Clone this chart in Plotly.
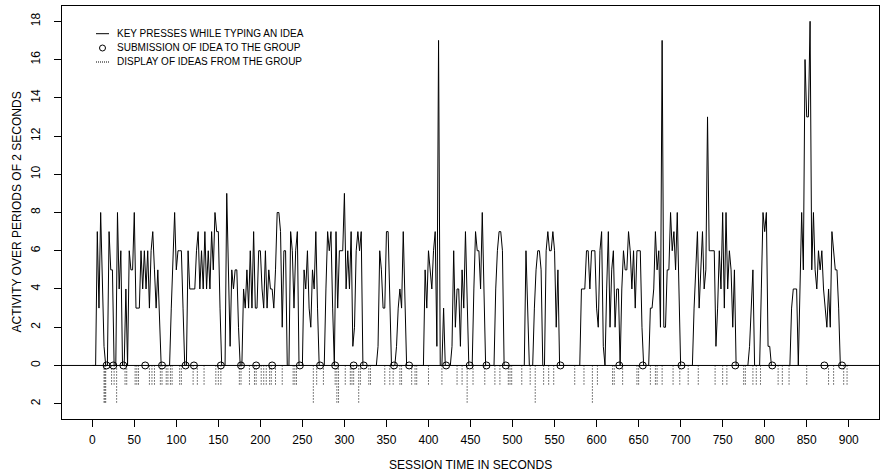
import plotly.graph_objects as go

# ---- data ----
# key presses per 2-second period, t = 0, 2, 4, ..., 900 s
key_presses = [
    0, 0, 0, 7, 3, 8, 4, 1, 0, 0, 7, 5, 5, 0, 0, 8, 4, 6, 0, 0, 4, 0, 6, 5, 5,        # 0-48
    8, 3, 3, 3, 6, 4, 6, 4, 6, 3, 6, 7, 5, 3, 5, 2, 0, 0, 0, 0, 0, 0, 3, 6, 8,        # 50-98
    5, 6, 6, 6, 3, 0, 0, 6, 4, 4, 4, 4, 6, 7, 4, 6, 4, 7, 4, 6, 4, 7, 5, 8, 7,        # 100-148
    7, 3, 0, 0, 0, 9, 4, 1, 5, 4, 5, 5, 2, 0, 0, 4, 3, 5, 3, 6, 3, 7, 3, 3, 6,        # 150-198
    6, 4, 3, 6, 3, 5, 4, 4, 3, 5, 8, 8, 7, 2, 6, 6, 0, 0, 7, 6, 3, 6, 7, 0, 0,        # 200-248
    0, 5, 4, 6, 3, 2, 5, 4, 7, 3, 0, 0, 0, 0, 4, 7, 6, 7, 3, 0, 7, 3, 6, 6, 6,        # 250-298
    9, 4, 6, 4, 7, 1, 2, 6, 7, 6, 7, 0, 0, 0, 0, 0, 0, 0, 0, 0, 1, 6, 5, 3, 3,        # 300-348
    7, 7, 4, 0, 0, 0, 1, 3, 4, 3, 7, 3, 0, 0, 0, 0, 0, 0, 0, 0, 0, 0, 0, 5, 3,        # 350-398
    6, 5, 4, 6, 7, 1, 17, 0, 0, 3, 0, 0, 0, 0, 1, 6, 2, 4, 4, 1, 5, 3, 7, 3, 0,       # 400-448
    0, 0, 4, 7, 6, 6, 4, 8, 4, 0, 0, 0, 0, 0, 0, 4, 6, 7, 7, 6, 0, 0, 0, 0, 0,        # 450-498
    0, 0, 0, 0, 0, 0, 0, 0, 6, 3, 0, 0, 0, 3, 5, 6, 6, 5, 0, 0, 6, 7, 6, 6, 7,        # 500-548
    6, 2, 5, 0, 0, 0, 0, 0, 0, 0, 0, 0, 0, 0, 0, 0, 4, 4, 4, 6, 6, 4, 6, 6, 6,        # 550-598
    3, 2, 6, 7, 1, 0, 4, 7, 2, 5, 6, 2, 4, 4, 0, 4, 6, 5, 5, 7, 6, 4, 6, 3, 6,        # 600-648
    6, 6, 2, 0, 0, 0, 0, 3, 3, 4, 7, 5, 6, 2, 17, 2, 2, 5, 5, 8, 6, 7, 5, 8, 3,       # 650-698
    0, 0, 0, 0, 0, 0, 0, 0, 3, 5, 7, 3, 5, 7, 4, 5, 13, 6, 6, 6, 6, 1, 3, 6, 4,       # 700-748
    8, 3, 8, 4, 6, 5, 2, 5, 0, 0, 0, 0, 0, 0, 0, 0, 1, 3, 5, 0, 0, 0, 0, 4, 8,        # 750-798
    7, 8, 1, 1, 0, 0, 0, 0, 0, 0, 0, 0, 0, 0, 0, 0, 3, 4, 4, 4, 0, 4, 8, 5, 16,       # 800-848
    13, 13, 18, 5, 8, 5, 4, 6, 5, 6, 4, 3, 2, 4, 2, 7, 6, 5, 5, 3, 0, 0, 0, 0, 0, 0,  # 850-900
]
period_seconds = 2

submission_times = [17, 25, 37, 63, 83, 111, 121, 153, 177, 195, 214, 247, 271, 289,
                    311, 323, 359, 377, 421, 449, 469, 492, 557, 627, 655, 701, 765,
                    809, 871, 892]

display_times = [14, 15, 16, 23, 26, 29, 39, 41, 51, 53, 55, 68, 71, 74, 81, 83, 88, 90,
                 93, 95, 104, 106, 120, 125, 133, 147, 150, 153, 175, 177, 187, 193, 195,
                 201, 204, 207, 211, 213, 218, 226, 239, 241, 243, 263, 267, 275, 289,
                 291, 293, 301, 307, 309, 311, 317, 319, 329, 331, 348, 354, 358, 366,
                 368, 380, 384, 386, 400, 416, 434, 440, 446, 453, 467, 479, 485, 495,
                 497, 499, 511, 521, 527, 537, 543, 549, 574, 585, 595, 601, 619, 621,
                 631, 648, 650, 664, 670, 672, 678, 691, 699, 709, 721, 741, 750, 755,
                 775, 777, 786, 790, 795, 816, 821, 829, 850, 876, 882, 894, 898]
display_counts = [2, 2, 2, 1, 1, 2, 1, 1, 1, 1, 1, 1, 1, 1, 1, 1, 1, 1,
                  1, 1, 1, 1, 1, 1, 1, 1, 1, 1, 1, 1, 1, 1, 1,
                  1, 1, 1, 1, 1, 1, 1, 1, 1, 1, 2, 1, 1, 1,
                  2, 2, 1, 1, 1, 1, 2, 1, 1, 1, 1, 1, 1, 1,
                  1, 1, 1, 1, 1, 1, 1, 1, 2, 1, 1, 1, 1, 1,
                  1, 1, 1, 1, 2, 1, 1, 1, 1, 1, 2, 1, 1, 1,
                  1, 1, 1, 1, 1, 1, 1, 1, 1, 1, 1, 1, 1, 1,
                  1, 1, 1, 1, 1, 1, 1, 1, 1, 1, 1, 1, 1]

x_tick_vals = [0, 50, 100, 150, 200, 250, 300, 350, 400, 450, 500, 550, 600, 650,
               700, 750, 800, 850, 900]
y_tick_vals = [-2, 0, 2, 4, 6, 8, 10, 12, 14, 16, 18]
y_tick_text = ["2", "0", "2", "4", "6", "8", "10", "12", "14", "16", "18"]

legend_labels = ["KEY PRESSES WHILE TYPING AN IDEA",
                 "SUBMISSION OF IDEA TO THE GROUP",
                 "DISPLAY OF IDEAS FROM THE GROUP"]

x_title = "SESSION TIME IN SECONDS"
y_title = "ACTIVITY OVER PERIODS OF 2 SECONDS"

# ---- figure ----
FONT = "Liberation Sans, Arial, Helvetica, sans-serif"
W, H = 881, 474
ML, MR, MT, MB = 62, 2, 6, 55
PW, PH = W - ML - MR, H - MT - MB


def px_x(p):
    return (p - ML) / PW


def px_y(p):
    return (H - MB - p) / PH


times = [i * period_seconds for i in range(len(key_presses))]

disp_x, disp_y = [], []
for t, c in zip(display_times, display_counts):
    disp_x += [t, t, None]
    disp_y += [0, -c, None]

fig = go.Figure()
fig.add_trace(go.Scatter(x=times, y=key_presses, mode="lines",
                         line=dict(color="black", width=1), showlegend=False,
                         hoverinfo="skip"))
fig.add_trace(go.Scatter(x=disp_x, y=disp_y, mode="lines",
                         line=dict(color="black", width=1, dash="1px,2px"),
                         showlegend=False, hoverinfo="skip"))
fig.add_trace(go.Scatter(x=submission_times, y=[0] * len(submission_times),
                         mode="markers",
                         marker=dict(symbol="circle-open", size=7,
                                     color="black", line=dict(width=1, color="black")),
                         showlegend=False, hoverinfo="skip"))

shapes = [dict(type="line", xref="paper", x0=0, x1=1, yref="y", y0=0, y1=0,
               line=dict(color="black", width=1), layer="below")]

# legend (manual, top-left inside plot)
row_y = [33.7, 48.0, 62.0]
shapes.append(dict(type="line", xref="paper", yref="paper",
                   x0=px_x(96), x1=px_x(109), y0=px_y(row_y[0]), y1=px_y(row_y[0]),
                   line=dict(color="black", width=1)))
shapes.append(dict(type="circle", xref="paper", yref="paper",
                   xsizemode="pixel", ysizemode="pixel",
                   xanchor=px_x(102.5), yanchor=px_y(row_y[1]),
                   x0=-3, x1=3, y0=-3, y1=3,
                   line=dict(color="black", width=1)))
shapes.append(dict(type="line", xref="paper", yref="paper",
                   x0=px_x(96), x1=px_x(109), y0=px_y(row_y[2]), y1=px_y(row_y[2]),
                   line=dict(color="black", width=1, dash="1px,1px")))

annotations = []
for lbl, ry in zip(legend_labels, row_y):
    annotations.append(dict(text=lbl, xref="paper", yref="paper",
                            x=px_x(115), y=px_y(ry), xanchor="left", yanchor="middle",
                            showarrow=False, font=dict(family=FONT, size=10, color="black")))

annotations.append(dict(text=x_title, xref="paper", yref="paper", x=0.5, y=px_y(465),
                        xanchor="center", yanchor="middle", showarrow=False,
                        font=dict(family=FONT, size=12, color="black")))
annotations.append(dict(text=y_title, xref="paper", yref="paper", x=px_x(16), y=0.5,
                        xanchor="center", yanchor="middle", textangle=-90, showarrow=False,
                        font=dict(family=FONT, size=12, color="black")))

fig.update_layout(
    width=W, height=H, autosize=False,
    margin=dict(l=ML, r=MR, t=MT, b=MB, pad=0),
    paper_bgcolor="white", plot_bgcolor="white",
    font=dict(family=FONT, size=12, color="black"),
    shapes=shapes, annotations=annotations, showlegend=False,
)
fig.update_xaxes(range=[-36, 936], tickvals=x_tick_vals, ticks="outside", ticklen=7,
                 tickwidth=1, tickcolor="black", showline=True, linecolor="black",
                 linewidth=1, mirror=True, showgrid=False, zeroline=False,
                 ticklabelstandoff=3,
                 tickfont=dict(family=FONT, size=12, color="black"))
fig.update_yaxes(range=[-2.8, 18.8], tickvals=y_tick_vals, ticktext=y_tick_text,
                 tickangle=-90, ticks="outside", ticklen=7, tickwidth=1,
                 tickcolor="black", showline=True, linecolor="black", linewidth=1,
                 mirror=True, showgrid=False, zeroline=False,
                 ticklabelstandoff=9,
                 tickfont=dict(family=FONT, size=12, color="black"))

fig.write_html("out.html", config={"displayModeBar": False},
               post_script="document.body.style.margin='0';")
